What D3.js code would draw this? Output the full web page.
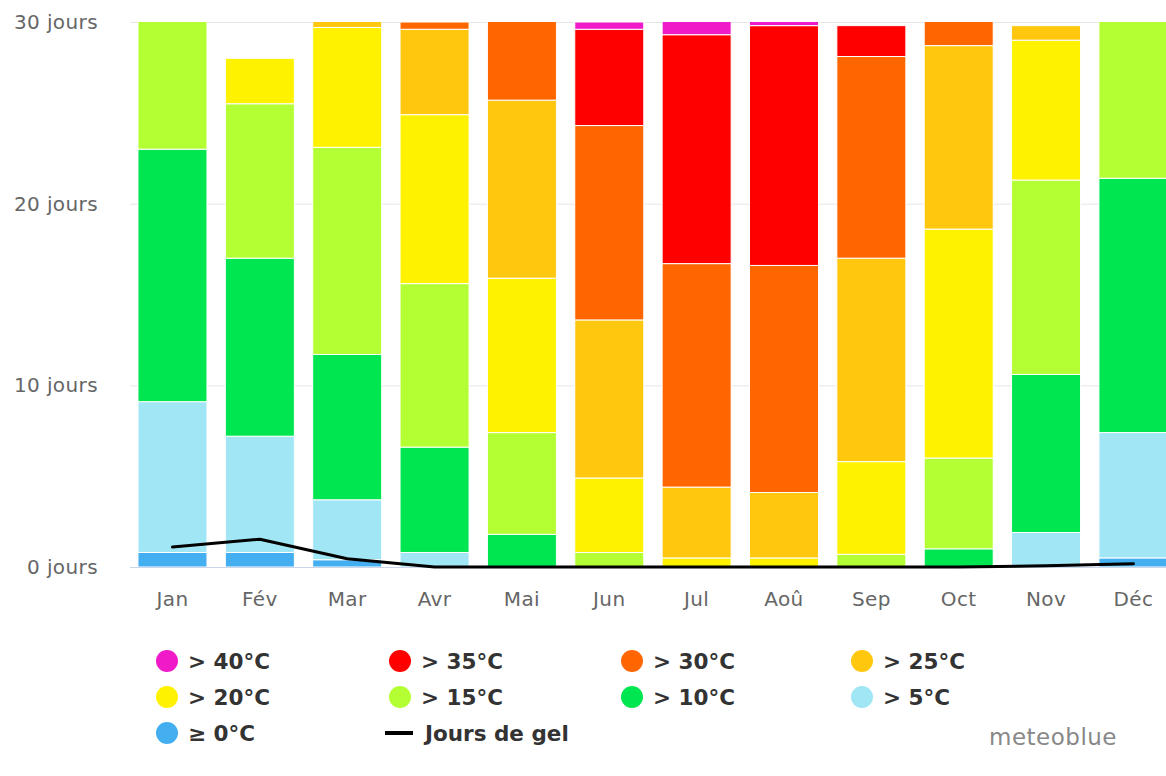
<!DOCTYPE html>
<html>
<head>
<meta charset="utf-8">
<script src="https://cdn.jsdelivr.net/npm/d3@7"></script>
<style>
  html, body { margin: 0; padding: 0; background: #fff; }
  svg { display: block; }
</style>
</head>
<body>
<svg id="chart" width="1166" height="776"></svg>
<script>
// ---- data ----
const months = ["Jan", "Fév", "Mar", "Avr", "Mai", "Jun", "Jul", "Aoû", "Sep", "Oct", "Nov", "Déc"];
const seriesNames = ["≥ 0°C", "> 5°C", "> 10°C", "> 15°C", "> 20°C", "> 25°C", "> 30°C", "> 35°C", "> 40°C"];
const seriesColors = ["#44aff0", "#a0e6f5", "#00e650", "#b4ff33", "#fff200", "#ffc70e", "#ff6600", "#ff0000", "#f01ac9"];
const above0  = [0.8, 0.8, 0.4, 0,   0,   0,   0,    0,    0,    0,    0,   0.5];
const above5  = [8.3, 6.4, 3.3, 0.8, 0,   0,   0,    0,    0,    0,    1.9, 6.9];
const above10 = [13.9, 9.8, 8.0, 5.8, 1.8, 0,  0,    0,    0,    1.0,  8.7, 14.0];
const above15 = [8.0, 8.5, 11.4, 9.0, 5.6, 0.8, 0,   0,    0.7,  5.0, 10.7, 9.6];
const above20 = [0,   2.5, 6.6, 9.3, 8.5, 4.1, 0.5,  0.5,  5.1, 12.6,  7.7, 0];
const above25 = [0,   0,   1.3, 4.7, 9.8, 8.7, 3.9,  3.6, 11.2, 10.1,  0.8, 0];
const above30 = [0,   0,   0,   0.4, 5.3, 10.7, 12.3, 12.5, 11.1, 2.3, 0,   0];
const above35 = [0,   0,   0,   0,   0,   5.3, 12.6, 13.2, 1.7,  0,    0,   0];
const above40 = [0,   0,   0,   0,   0,   0.4, 1.7,  1.2,  0,    0,    0,   0];
const frostDays = [1.1, 1.53, 0.45, 0, 0, 0, 0, 0, 0, 0, 0.07, 0.18];
const yTicks = [0, 10, 20, 30];

const seriesValues = [above0, above5, above10, above15, above20, above25, above30, above35, above40];

// ---- layout ----
const svg = d3.select("#chart");
const plotLeft = 128.8, plotRight = 1177.1, plotTop = 22, plotBottom = 567;

const x = d3.scaleBand().domain(months).range([plotLeft, plotRight])
  .paddingInner(0.21).paddingOuter(0.105);
const y = d3.scaleLinear().domain([0, 30]).range([plotBottom, plotTop]);

const axisFont = "'DejaVu Sans', sans-serif";

// gridlines
const grid = svg.append("g");
grid.selectAll("line").data(yTicks).join("line")
  .attr("x1", 130).attr("x2", 1166)
  .attr("y1", d => y(d) + 0.5).attr("y2", d => y(d) + 0.5)
  .attr("stroke", d => d === 0 ? "#ccd6eb" : "#e6e6e6")
  .attr("stroke-width", 1);

// y labels
svg.append("g").selectAll("text").data(yTicks).join("text")
  .attr("x", 98).attr("y", d => y(d) + 7)
  .attr("text-anchor", "end")
  .attr("font-family", axisFont).attr("font-size", 20)
  .attr("letter-spacing", 0.4)
  .attr("fill", "#666")
  .text(d => d + " jours");

// x labels
svg.append("g").selectAll("text").data(months).join("text")
  .attr("x", d => x(d) + x.bandwidth() / 2).attr("y", 606)
  .attr("text-anchor", "middle")
  .attr("font-family", axisFont).attr("font-size", 20)
  .attr("letter-spacing", 0.4)
  .attr("fill", "#666")
  .text(d => d);

// clip
svg.append("defs").append("clipPath").attr("id", "plotclip")
  .append("rect").attr("x", plotLeft - 10).attr("y", plotTop)
  .attr("width", plotRight - plotLeft + 20).attr("height", plotBottom - plotTop);

// stacked bars
const table = months.map((m, i) => {
  const row = { month: m };
  seriesNames.forEach((s, k) => row[s] = seriesValues[k][i]);
  return row;
});
const stacked = d3.stack().keys(seriesNames)(table);

const barsG = svg.append("g").attr("clip-path", "url(#plotclip)");
stacked.forEach((layer, k) => {
  barsG.append("g").selectAll("rect").data(layer.filter(d => d[1] - d[0] > 0)).join("rect")
    .attr("x", d => x(d.data.month))
    .attr("width", x.bandwidth())
    .attr("y", d => y(d[1]))
    .attr("height", d => y(d[0]) - y(d[1]))
    .attr("fill", seriesColors[k])
    .attr("stroke", "#fff").attr("stroke-width", 1);
});

// frost line
const line = d3.line()
  .x((d, i) => x(months[i]) + x.bandwidth() / 2)
  .y(d => y(d))
  .curve(d3.curveLinear);
svg.append("path").datum(frostDays)
  .attr("d", line)
  .attr("fill", "none").attr("stroke", "#000").attr("stroke-width", 3)
  .attr("stroke-linecap", "round").attr("stroke-linejoin", "round");

// legend
const legendFont = "'DejaVu Sans', sans-serif";
const legendOrder = [8, 7, 6, 5, 4, 3, 2, 1, 0];
const colX = [167, 400, 632, 862];
const rowY = [661, 697, 733];
const legend = svg.append("g");
legendOrder.forEach((k, idx) => {
  const cx = colX[idx % 4], cy = rowY[Math.floor(idx / 4)];
  legend.append("circle").attr("cx", cx).attr("cy", cy).attr("r", 11)
    .attr("fill", seriesColors[k]);
  legend.append("text").attr("x", cx + 21).attr("y", cy + 7.5)
    .attr("font-family", legendFont).attr("font-size", 21.5).attr("font-weight", "bold")
    .attr("fill", "#333").text(seriesNames[k]);
});
// line legend item
legend.append("line").attr("x1", 385).attr("x2", 413).attr("y1", rowY[2]).attr("y2", rowY[2])
  .attr("stroke", "#000").attr("stroke-width", 4);
legend.append("text").attr("x", 425).attr("y", rowY[2] + 7.5)
  .attr("font-family", legendFont).attr("font-size", 21.5).attr("font-weight", "bold")
  .attr("fill", "#333").text("Jours de gel");

// credit
svg.append("text").attr("x", 1117).attr("y", 745).attr("text-anchor", "end")
  .attr("font-family", axisFont).attr("font-size", 23).attr("letter-spacing", 0.5)
  .attr("fill", "#888")
  .text("meteoblue");
</script>
</body>
</html>
